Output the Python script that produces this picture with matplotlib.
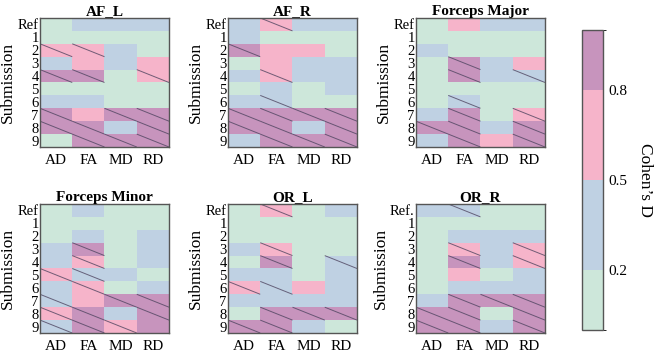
import numpy as np
import matplotlib
matplotlib.use("Agg")
import matplotlib.pyplot as plt
from matplotlib.colors import ListedColormap, BoundaryNorm
from matplotlib.cm import ScalarMappable

plt.rcParams['font.family'] = ['Liberation Serif', 'DejaVu Serif']

# effect size bins: 0 (<0.2), 1 (0.2-0.5), 2 (0.5-0.8), 3 (>0.8)
measures = ["AD", "FA", "MD", "RD"]
rows = ["Ref", "1", "2", "3", "4", "5", "6", "7", "8", "9"]
bounds = [0.0, 0.2, 0.5, 0.8, 1.0]
bin_colors = ["#cde7da", "#bfd1e3", "#f6b4ca", "#c794bd"]

af_l = [[0, 1, 1, 1], [0, 0, 0, 0], [2, 2, 1, 0], [1, 2, 1, 2], [3, 3, 0, 2],
        [0, 0, 0, 0], [1, 1, 0, 0], [3, 2, 3, 3], [3, 3, 1, 3], [0, 3, 3, 3]]
af_l_sig = [[0, 0, 0, 0], [0, 0, 0, 0], [1, 1, 0, 0], [0, 0, 0, 0], [1, 1, 0, 1],
            [0, 0, 0, 0], [0, 0, 0, 0], [1, 0, 1, 1], [1, 1, 0, 1], [0, 1, 1, 1]]

af_r = [[1, 2, 1, 1], [1, 0, 0, 0], [3, 2, 2, 0], [0, 2, 1, 1], [1, 2, 1, 1],
        [0, 1, 0, 1], [1, 1, 0, 0], [3, 3, 3, 3], [3, 3, 1, 3], [1, 3, 3, 3]]
af_r_sig = [[0, 1, 0, 0], [0, 0, 0, 0], [1, 0, 0, 0], [0, 0, 0, 0], [0, 1, 0, 0],
            [0, 0, 0, 0], [0, 1, 0, 0], [1, 1, 1, 1], [1, 1, 0, 1], [0, 1, 1, 1]]

fmajor = [[0, 2, 1, 1], [0, 0, 0, 0], [1, 0, 0, 0], [0, 3, 1, 2], [0, 3, 1, 1],
          [0, 0, 0, 0], [0, 1, 0, 0], [1, 3, 0, 2], [3, 3, 1, 3], [1, 3, 2, 3]]
fmajor_sig = [[0, 0, 0, 0], [0, 0, 0, 0], [0, 0, 0, 0], [0, 1, 0, 0], [0, 1, 0, 1],
              [0, 0, 0, 0], [0, 1, 0, 0], [0, 1, 0, 1], [1, 1, 0, 1], [0, 1, 0, 1]]

fminor = [[0, 1, 0, 0], [0, 0, 0, 0], [0, 1, 0, 1], [1, 3, 0, 1], [1, 2, 0, 1],
          [2, 1, 1, 0], [1, 2, 0, 1], [1, 2, 3, 3], [2, 3, 1, 3], [1, 3, 2, 3]]
fminor_sig = [[0, 0, 0, 0], [0, 0, 0, 0], [0, 0, 0, 0], [0, 1, 0, 0], [0, 1, 0, 0],
              [1, 1, 0, 0], [0, 1, 0, 0], [1, 0, 1, 1], [1, 1, 0, 1], [1, 1, 1, 0]]

or_l = [[0, 2, 0, 1], [0, 0, 0, 0], [0, 0, 0, 0], [1, 2, 0, 0], [0, 3, 0, 1],
        [1, 1, 0, 1], [2, 1, 2, 1], [1, 1, 1, 1], [0, 3, 3, 3], [3, 3, 1, 0]]
or_l_sig = [[0, 1, 0, 0], [0, 0, 0, 0], [0, 0, 0, 0], [0, 1, 0, 0], [0, 1, 0, 1],
            [0, 0, 0, 0], [1, 1, 0, 0], [0, 0, 0, 0], [0, 1, 1, 1], [1, 1, 0, 0]]

or_r = [[1, 1, 0, 0], [0, 0, 0, 0], [0, 1, 1, 1], [0, 2, 1, 2], [0, 3, 1, 2],
        [0, 2, 0, 1], [0, 1, 1, 1], [1, 3, 3, 3], [3, 3, 0, 3], [3, 3, 1, 3]]
or_r_sig = [[0, 1, 0, 0], [0, 0, 0, 0], [0, 0, 0, 0], [0, 1, 0, 1], [0, 1, 0, 1],
            [0, 0, 0, 0], [0, 0, 0, 0], [0, 1, 1, 1], [1, 1, 0, 1], [1, 1, 0, 1]]

panels = [
    ("AF_L", af_l, af_l_sig, rows),
    ("AF_R", af_r, af_r_sig, rows),
    ("Forceps Major", fmajor, fmajor_sig, rows),
    ("Forceps Minor", fminor, fminor_sig, rows),
    ("OR_L", or_l, or_l_sig, rows),
    ("OR_R", or_r, or_r_sig, ["Ref."] + rows[1:]),
]

cmap = ListedColormap(bin_colors)
frame_col = "#555555"

fig = plt.figure(figsize=(6.62, 3.53), dpi=100)
lefts = [40 / 662, 228 / 662, 416 / 662]
bottoms = [1 - 147 / 353, 1 - 333 / 353]
w, h = 129 / 662, 129 / 353

for k, (title, vals, sig, ylabels) in enumerate(panels):
    ax = fig.add_axes([lefts[k % 3], bottoms[k // 3], w, h])
    vals = np.array(vals)
    sig = np.array(sig)
    ax.imshow(vals, cmap=cmap, vmin=-0.5, vmax=3.5, aspect='auto',
              interpolation='nearest')
    # one diagonal stroke per significant cell
    for i, j in zip(*np.nonzero(sig)):
        ax.plot([j - 0.5, j + 0.5], [i - 0.5, i + 0.5], color="#4f4560",
                lw=0.7, alpha=0.8, solid_capstyle='butt')
    ax.set_xlim(-0.5, 3.5)
    ax.set_ylim(9.5, -0.5)
    ax.set_xticks(range(len(measures)))
    ax.set_xticklabels(measures, fontsize=11)
    ax.set_yticks(range(len(ylabels)))
    ax.set_yticklabels(ylabels, fontsize=10.5)
    ax.tick_params(axis='x', length=0, pad=5)
    ax.tick_params(axis='y', length=0, pad=1)
    ax.set_ylabel("Submission", fontsize=12.5, labelpad=1)
    ax.set_title(title, fontsize=11, fontweight='bold', pad=2)
    for s in ax.spines.values():
        s.set_color(frame_col)
        s.set_linewidth(1.0)

cax = fig.add_axes([582 / 662, 1 - 330 / 353, 21 / 662, 300 / 353])
sm = ScalarMappable(norm=BoundaryNorm(bounds, cmap.N), cmap=cmap)
cb = fig.colorbar(sm, cax=cax, ticks=[0.2, 0.5, 0.8], spacing='proportional')
cb.ax.set_yticklabels(["0.2", "0.5", "0.8"], fontsize=11)
cb.ax.tick_params(length=0, pad=4)
cb.outline.set_edgecolor(frame_col)
cb.outline.set_linewidth(1.0)
cb.set_label("Cohen\u2019s D", rotation=270, fontsize=12.5, labelpad=18)

fig.savefig("out.png", dpi=100)
